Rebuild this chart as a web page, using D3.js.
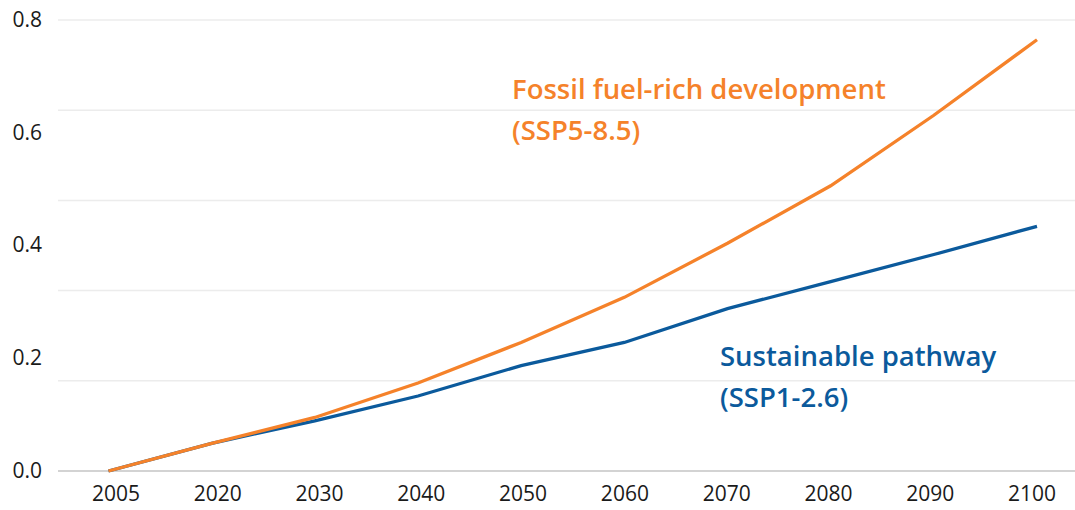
<!DOCTYPE html>
<html lang="en">
<head>
  <meta charset="UTF-8">
  <script src="https://cdn.jsdelivr.net/npm/d3@7"></script>
  <title>SSP pathways</title>
  <style>
    body { margin: 0; background: #fff; }
    text { font-family: "Open Sans", "Noto Sans", sans-serif; }
  </style>
</head>
<body>
  <svg width="1075" height="510" id="chart"></svg>
  <script>
  // data
  let years = ["2005", "2020", "2030", "2040", "2050", "2060", "2070", "2080", "2090", "2100"];
  let fossil = [0, 0.049, 0.095, 0.156, 0.228, 0.308, 0.404, 0.506, 0.631, 0.765];
  let sustainable = [0, 0.049, 0.089, 0.133, 0.187, 0.228, 0.288, 0.336, 0.384, 0.434];
  let yTicks = [0, 0.2, 0.4, 0.6, 0.8];
  let gridCount = 5; // the original has 5 gridline bands, not matching the labels

  let svg = d3.select("#chart");

  let plotLeft = 58, plotRight = 1075, plotTop = 20, plotBottom = 471;

  /* SCALES */
  let scaleY = d3.scaleLinear().domain([0, 0.8]).range([plotBottom, plotTop]);
  let scaleX = d3.scalePoint().domain(years).range([108.5, 1037]);
  let labelX = d3.scalePoint().domain(years).range([115.5, 1031.5]); // year labels sit a bit off the points

  /* GRID */
  let gridVals = d3.range(1, gridCount + 1).map(i => i * 0.8 / gridCount);
  svg.append("g").selectAll("line")
    .data(gridVals)
    .enter()
    .append("line")
    .attr("x1", plotLeft).attr("x2", plotRight)
    .attr("y1", d => scaleY(d)).attr("y2", d => scaleY(d))
    .attr("stroke", "#ececec")
    .attr("stroke-width", 1.5)

  // baseline
  svg.append("line")
    .attr("x1", plotLeft).attr("x2", plotRight)
    .attr("y1", scaleY(0)).attr("y2", scaleY(0))
    .attr("stroke", "#c4c4c4")
    .attr("stroke-width", 1.5)

  /* AXES */
  let axisY = d3.axisLeft(scaleY).tickValues(yTicks).tickFormat(d3.format(".1f")).tickSize(0).tickPadding(0)
  let gy = svg.append("g").attr("transform", "translate(42,0)").call(axisY)
  gy.select(".domain").remove()
  gy.selectAll("text").attr("font-size", 21).attr("fill", "#1a1a1a").attr("dy", "0.3em")
    .style("font-family", "'Open Sans', sans-serif")

  let axisX = d3.axisBottom(labelX).tickSize(0).tickPadding(0)
  let gx = svg.append("g").attr("transform", "translate(0,489)").call(axisX)
  gx.select(".domain").remove()
  gx.selectAll("text").attr("font-size", 21).attr("fill", "#1a1a1a").attr("dy", "0.55em")
    .style("font-family", "'Open Sans', sans-serif")

  /* LINES */
  let line = d3.line()
    .x((d, i) => scaleX(years[i]))
    .y(d => scaleY(d))

  svg.append("path")
    .datum(sustainable)
    .attr("d", line)
    .attr("fill", "none")
    .attr("stroke", "#0b5a9c")
    .attr("stroke-width", 3.3)

  svg.append("path")
    .datum(fossil)
    .attr("d", line)
    .attr("fill", "none")
    .attr("stroke", "#f5822a")
    .attr("stroke-width", 3.3)

  /* LABELS */
  function label(x, y, lines, color) {
    let t = svg.append("text")
      .attr("x", x).attr("y", y)
      .attr("fill", color)
      .attr("font-size", 27.5)
      .attr("font-weight", 600)
    lines.forEach((s, i) => {
      t.append("tspan").attr("x", x).attr("dy", i ? 41 : 0).text(s)
    })
  }
  label(512, 99, ["Fossil fuel-rich development", "(SSP5-8.5)"], "#f5822a")
  label(720, 366, ["Sustainable pathway", "(SSP1-2.6)"], "#0b5a9c")
  </script>
</body>
</html>
